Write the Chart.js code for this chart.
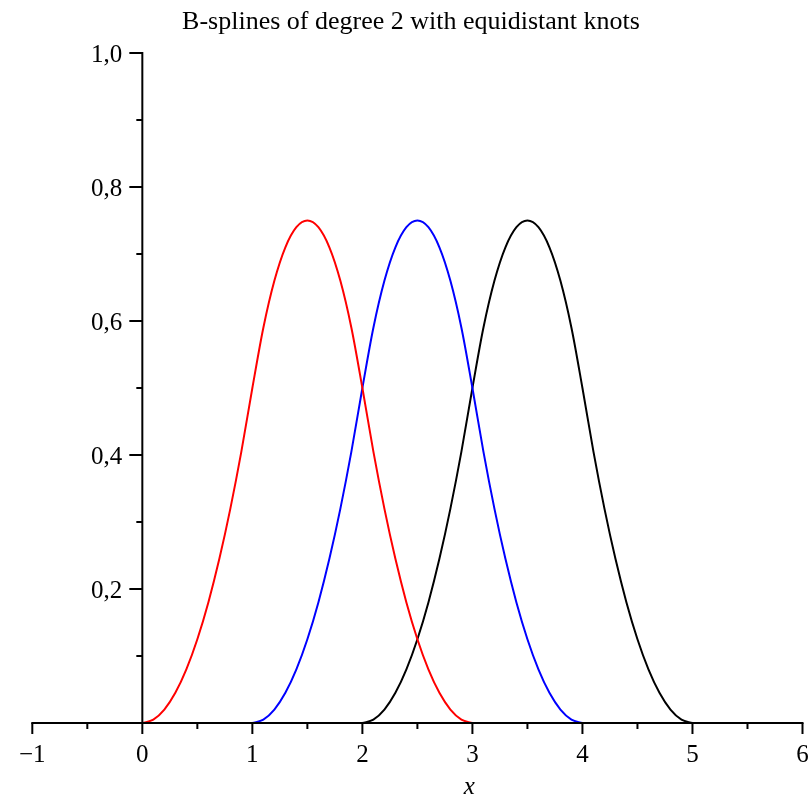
<!DOCTYPE html>
<html>
<head>
<meta charset="utf-8">
<script src="https://cdn.jsdelivr.net/npm/chart.js@4"></script>
<style>
html,body{margin:0;padding:0;background:#fff;}
#wrap{width:811px;height:797px;}
</style>
</head>
<body>
<div id="wrap"><canvas id="c" width="811" height="797"></canvas></div>
<script>
// ---- data ----
const chartTitle = "B-splines of degree 2 with equidistant knots";
const xAxisLabel = "x";

const xRed   = [0.0,0.1,0.2,0.3,0.4,0.5,0.6,0.7,0.8,0.9,1.0,1.1,1.2,1.3,1.4,1.5,1.6,1.7,1.8,1.9,2.0,2.1,2.2,2.3,2.4,2.5,2.6,2.7,2.8,2.9,3.0];
const yRed   = [0,0.005,0.02,0.045,0.08,0.125,0.18,0.245,0.32,0.405,0.5,0.59,0.66,0.71,0.74,0.75,0.74,0.71,0.66,0.59,0.5,0.405,0.32,0.245,0.18,0.125,0.08,0.045,0.02,0.005,0];

const xBlue  = [1.0,1.1,1.2,1.3,1.4,1.5,1.6,1.7,1.8,1.9,2.0,2.1,2.2,2.3,2.4,2.5,2.6,2.7,2.8,2.9,3.0,3.1,3.2,3.3,3.4,3.5,3.6,3.7,3.8,3.9,4.0];
const yBlue  = [0,0.005,0.02,0.045,0.08,0.125,0.18,0.245,0.32,0.405,0.5,0.59,0.66,0.71,0.74,0.75,0.74,0.71,0.66,0.59,0.5,0.405,0.32,0.245,0.18,0.125,0.08,0.045,0.02,0.005,0];

const xBlack = [2.0,2.1,2.2,2.3,2.4,2.5,2.6,2.7,2.8,2.9,3.0,3.1,3.2,3.3,3.4,3.5,3.6,3.7,3.8,3.9,4.0,4.1,4.2,4.3,4.4,4.5,4.6,4.7,4.8,4.9,5.0];
const yBlack = [0,0.005,0.02,0.045,0.08,0.125,0.18,0.245,0.32,0.405,0.5,0.59,0.66,0.71,0.74,0.75,0.74,0.71,0.66,0.59,0.5,0.405,0.32,0.245,0.18,0.125,0.08,0.045,0.02,0.005,0];

const xMajorTicks  = [-1,0,1,2,3,4,5,6];
const xMajorLabels = ["\u22121","0","1","2","3","4","5","6"];
const xMinorTicks  = [-0.5,0.5,1.5,2.5,3.5,4.5,5.5];
const yMajorTicks  = [0.2,0.4,0.6,0.8,1.0];
const yMajorLabels = ["0,2","0,4","0,6","0,8","1,0"];
const yMinorTicks  = [0.1,0.3,0.5,0.7,0.9];

// ---- helpers ----
function pts(xs, ys){ return xs.map((x,i)=>({x:x, y:ys[i]})); }

const SERIF = "'Liberation Serif', 'Times New Roman', serif";

const axesPlugin = {
  id: 'mapleAxes',
  afterDatasetsDraw(chart){
    const ctx = chart.ctx;
    const xs = chart.scales.x, ys = chart.scales.y;
    const x0 = xs.getPixelForValue(0);
    const y0 = ys.getPixelForValue(0);
    ctx.save();
    ctx.strokeStyle = '#000';
    ctx.fillStyle = '#000';
    ctx.lineWidth = 2;
    ctx.lineCap = 'butt';
    // x axis
    ctx.beginPath();
    ctx.moveTo(xs.getPixelForValue(-1)-1, y0);
    ctx.lineTo(xs.getPixelForValue(6)+1, y0);
    ctx.stroke();
    // y axis
    ctx.beginPath();
    ctx.moveTo(x0, y0+1);
    ctx.lineTo(x0, ys.getPixelForValue(1)-1);
    ctx.stroke();
    // x ticks
    xMajorTicks.forEach(v=>{
      const p = xs.getPixelForValue(v);
      ctx.beginPath(); ctx.moveTo(p, y0); ctx.lineTo(p, y0+11); ctx.stroke();
    });
    xMinorTicks.forEach(v=>{
      const p = xs.getPixelForValue(v);
      ctx.beginPath(); ctx.moveTo(p, y0); ctx.lineTo(p, y0+6); ctx.stroke();
    });
    // y ticks
    yMajorTicks.forEach(v=>{
      const p = ys.getPixelForValue(v);
      ctx.beginPath(); ctx.moveTo(x0, p); ctx.lineTo(x0-13, p); ctx.stroke();
    });
    yMinorTicks.forEach(v=>{
      const p = ys.getPixelForValue(v);
      ctx.beginPath(); ctx.moveTo(x0, p); ctx.lineTo(x0-6, p); ctx.stroke();
    });
    // labels
    ctx.font = "25px " + SERIF;
    ctx.textBaseline = 'alphabetic';
    ctx.textAlign = 'center';
    xMajorTicks.forEach((v,i)=>{
      ctx.fillText(xMajorLabels[i], xs.getPixelForValue(v), y0+39);
    });
    ctx.textAlign = 'right';
    yMajorTicks.forEach((v,i)=>{
      ctx.fillText(yMajorLabels[i], x0-20, ys.getPixelForValue(v)+9);
    });
    ctx.font = "italic 25px " + SERIF;
    ctx.textAlign = 'center';
    ctx.fillText(xAxisLabel, xs.getPixelForValue(3)-3, y0+71);
    // title
    ctx.font = "26px " + SERIF;
    ctx.textAlign = 'center';
    ctx.fillText(chartTitle, 411, 29);
    ctx.restore();
  }
};

const lineStyle = {borderWidth: 2, pointRadius: 0, showLine: true, fill: false, tension: 0.3, cubicInterpolationMode: 'monotone'};

new Chart(document.getElementById('c'), {
  type: 'scatter',
  data: {
    datasets: [
      Object.assign({label:'red',   data: pts(xRed, yRed),     borderColor:'#ff0000', backgroundColor:'#ff0000'}, lineStyle),
      Object.assign({label:'blue',  data: pts(xBlue, yBlue),   borderColor:'#0000ff', backgroundColor:'#0000ff'}, lineStyle),
      Object.assign({label:'black', data: pts(xBlack, yBlack), borderColor:'#000000', backgroundColor:'#000000'}, lineStyle)
    ]
  },
  options: {
    responsive: false,
    animation: false,
    events: [],
    layout: { padding: { left: 32.3, right: 8.5, top: 53, bottom: 74 } },
    plugins: {
      legend: { display: false },
      tooltip: { enabled: false },
      title: { display: false }
    },
    scales: {
      x: { type: 'linear', min: -1, max: 6, display: false },
      y: { type: 'linear', min: 0, max: 1, display: false }
    }
  },
  plugins: [axesPlugin]
});
</script>
</body>
</html>
